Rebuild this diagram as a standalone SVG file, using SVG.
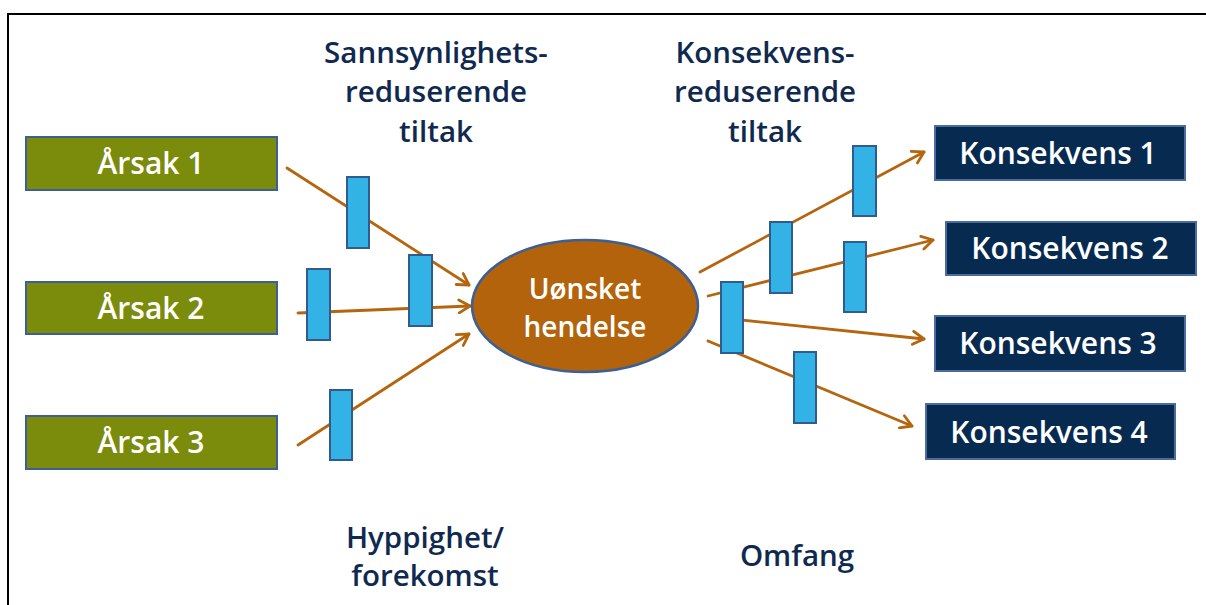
<svg xmlns="http://www.w3.org/2000/svg" width="1206" height="605" viewBox="0 0 1206 605">
  <defs>
    <marker id="arr" markerWidth="16" markerHeight="16" refX="13" refY="8" orient="auto" markerUnits="userSpaceOnUse">
      <path d="M2,1.5 L13,8 L2,14.5" fill="none" stroke="#b5650e" stroke-width="2.8" stroke-linecap="round" stroke-linejoin="round"/>
    </marker>
  </defs>
  <style>
    .frame { stroke: #000; stroke-width: 2; fill: none; }
    .cause { fill: #7b8b0b; stroke: #3e5f95; stroke-width: 2; }
    .cons { fill: #062a50; stroke: #4b6c9c; stroke-width: 2; }
    .bar { fill: #33b2e6; stroke: #2f5b8f; stroke-width: 2; }
    .conn { stroke: #b5650e; stroke-width: 2.8; fill: none; stroke-linecap: round; }
    .ev { fill: #b3630b; stroke: #3c5f95; stroke-width: 2.5; }
    .btxt { font-family: "Open Sans", "DejaVu Sans", sans-serif; font-weight: 600; fill: #ffffff; text-anchor: middle; }
    .lbl { font-family: "Open Sans", "DejaVu Sans", sans-serif; font-weight: 600; fill: #10294f; text-anchor: middle; font-size: 29.5px; }
  </style>
  <rect width="1206" height="605" fill="#ffffff"/>
  <path class="frame" d="M8,606 L8,14 L1207,14"/>

  <g id="labels">
    <text class="lbl" x="436" y="63">Sannsynlighets-</text>
    <text class="lbl" x="436" y="102">reduserende</text>
    <text class="lbl" x="436" y="142">tiltak</text>
    <text class="lbl" x="765" y="63">Konsekvens-</text>
    <text class="lbl" x="765" y="102">reduserende</text>
    <text class="lbl" x="765" y="142">tiltak</text>
    <text class="lbl" x="425" y="548">Hyppighet/</text>
    <text class="lbl" x="425" y="586">forekomst</text>
    <text class="lbl" x="797" y="566">Omfang</text>
  </g>

  <g id="connectors">
    <line class="conn" x1="287" y1="168" x2="469" y2="285" marker-end="url(#arr)"/>
    <line class="conn" x1="298" y1="313" x2="470" y2="306" marker-end="url(#arr)"/>
    <line class="conn" x1="298" y1="445" x2="469" y2="334" marker-end="url(#arr)"/>
    <line class="conn" x1="700" y1="272" x2="924" y2="152" marker-end="url(#arr)"/>
    <line class="conn" x1="708" y1="296" x2="933" y2="240" marker-end="url(#arr)"/>
    <line class="conn" x1="722" y1="318" x2="924" y2="339" marker-end="url(#arr)"/>
    <line class="conn" x1="708" y1="341" x2="912" y2="426" marker-end="url(#arr)"/>
  </g>

  <g id="barriers">
    <rect class="bar" x="347" y="177" width="22" height="71"/>
    <rect class="bar" x="307" y="269" width="23" height="71"/>
    <rect class="bar" x="409" y="255" width="23" height="71"/>
    <rect class="bar" x="330" y="390" width="22" height="70"/>
    <rect class="bar" x="721" y="282" width="22" height="71"/>
    <rect class="bar" x="770" y="222" width="22" height="71"/>
    <rect class="bar" x="853" y="146" width="23" height="70"/>
    <rect class="bar" x="844" y="242" width="22" height="70"/>
    <rect class="bar" x="794" y="352" width="22" height="71"/>
  </g>

  <g id="arsak1">
    <rect class="cause" x="26" y="137" width="251" height="53"/>
    <text class="btxt" x="151" y="174" font-size="30">Årsak 1</text>
  </g>
  <g id="arsak2">
    <rect class="cause" x="26" y="282" width="251" height="52"/>
    <text class="btxt" x="151" y="319" font-size="30">Årsak 2</text>
  </g>
  <g id="arsak3">
    <rect class="cause" x="26" y="416" width="251" height="53"/>
    <text class="btxt" x="151" y="453" font-size="30">Årsak 3</text>
  </g>

  <g id="event">
    <ellipse class="ev" cx="585" cy="306" rx="113" ry="66"/>
    <text class="btxt" x="585" y="299" font-size="28">Uønsket</text>
    <text class="btxt" x="585" y="337" font-size="28">hendelse</text>
  </g>

  <g id="konsekvens1">
    <rect class="cons" x="935" y="126" width="250" height="54"/>
    <text class="btxt" x="1058" y="164" font-size="30">Konsekvens 1</text>
  </g>
  <g id="konsekvens2">
    <rect class="cons" x="946" y="222" width="250" height="53"/>
    <text class="btxt" x="1070" y="259" font-size="30">Konsekvens 2</text>
  </g>
  <g id="konsekvens3">
    <rect class="cons" x="935" y="316" width="250" height="55"/>
    <text class="btxt" x="1058" y="354" font-size="30">Konsekvens 3</text>
  </g>
  <g id="konsekvens4">
    <rect class="cons" x="926" y="404" width="249" height="55"/>
    <text class="btxt" x="1049" y="443" font-size="30">Konsekvens 4</text>
  </g>
</svg>
